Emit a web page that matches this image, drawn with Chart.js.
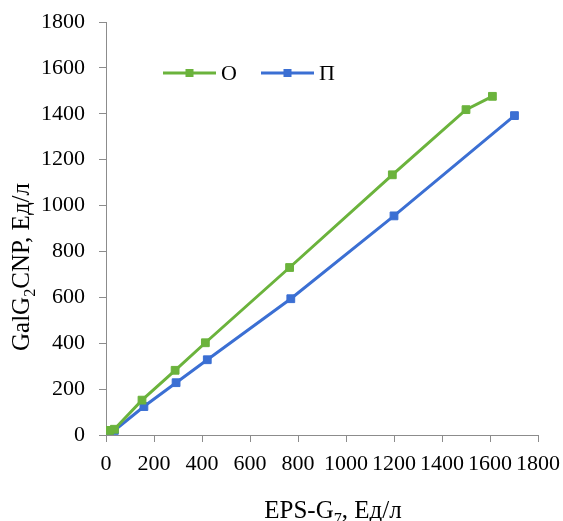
<!DOCTYPE html>
<html>
<head>
<meta charset="utf-8">
<script src="https://cdn.jsdelivr.net/npm/chart.js@4.4.0/dist/chart.umd.min.js"></script>
<style>
  html, body { margin: 0; padding: 0; background: #fff; }
  #wrap { width: 563px; height: 521px; }
</style>
</head>
<body>
<div id="wrap"><canvas id="chart" width="563" height="521"></canvas></div>
<script>
// series О
const oX = [15, 35, 150, 288, 414, 765, 1193, 1500, 1610];
const oY = [20, 25, 152, 282, 402, 730, 1134, 1418, 1476];
// series П
const pX = [15, 35, 158, 292, 422, 770, 1200, 1702];
const pY = [20, 20, 124, 228, 328, 594, 955, 1392];

const seriesNames = ["О", "П"];
const seriesColors = ["#6BB33C", "#3B6FD3"];
const xTicks = [0, 200, 400, 600, 800, 1000, 1200, 1400, 1600, 1800];
const yTicks = [0, 200, 400, 600, 800, 1000, 1200, 1400, 1600, 1800];

const serif = "'Liberation Serif', 'Times New Roman', serif";
const axisGray = "#8c8c8c";

function toPoints(xs, ys) {
  return xs.map((x, i) => ({ x: x, y: ys[i] }));
}

// draws text with one lowered small part, e.g. G₂
function drawSubText(ctx, parts, x, y, size) {
  let cx = x;
  parts.forEach(p => {
    const s = p.sub ? size * 0.65 : size;
    ctx.font = s + "px " + serif;
    ctx.fillText(p.t, cx, p.sub ? y + size * 0.22 : y);
    cx += ctx.measureText(p.t).width;
  });
}
function measureSubText(ctx, parts, size) {
  let w = 0;
  parts.forEach(p => {
    ctx.font = (p.sub ? size * 0.65 : size) + "px " + serif;
    w += ctx.measureText(p.t).width;
  });
  return w;
}

const titlesPlugin = {
  id: "titles",
  afterDraw(chart) {
    const ctx = chart.ctx;
    ctx.save();
    ctx.fillStyle = "#000";
    ctx.textBaseline = "alphabetic";
    ctx.textAlign = "left";
    // x axis title
    const xt = [{ t: "EPS-G" }, { t: "7", sub: true }, { t: ", Ед/л" }];
    const xw = measureSubText(ctx, xt, 25);
    drawSubText(ctx, xt, 333 - xw / 2, 518, 25);
    // y axis title
    const yt = [{ t: "GalG" }, { t: "2", sub: true }, { t: "CNP, Ед/л" }];
    const yw = measureSubText(ctx, yt, 25);
    ctx.translate(29, 267);
    ctx.rotate(-Math.PI / 2);
    drawSubText(ctx, yt, -yw / 2, 0, 25);
    ctx.restore();
  }
};

const legendPlugin = {
  id: "legendLines",
  afterDraw(chart) {
    const ctx = chart.ctx;
    const items = [{ x0: 163, x1: 216, tx: 221 }, { x0: 261, x1: 314, tx: 319 }];
    const y = 73;
    ctx.save();
    chart.data.datasets.forEach((ds, i) => {
      const it = items[i];
      ctx.strokeStyle = ds.borderColor;
      ctx.lineWidth = 3;
      ctx.beginPath();
      ctx.moveTo(it.x0, y);
      ctx.lineTo(it.x1, y);
      ctx.stroke();
      ctx.fillStyle = ds.borderColor;
      const mx = (it.x0 + it.x1) / 2;
      ctx.fillRect(mx - 4, y - 4, 8, 8);
      ctx.fillStyle = "#000";
      ctx.font = "22px " + serif;
      ctx.textBaseline = "middle";
      ctx.fillText(ds.label, it.tx, y + 1);
    });
    ctx.restore();
  }
};

new Chart(document.getElementById("chart").getContext("2d"), {
  type: "scatter",
  data: {
    datasets: [
      {
        label: seriesNames[0],
        data: toPoints(oX, oY),
        showLine: true,
        borderColor: seriesColors[0],
        backgroundColor: seriesColors[0],
        borderWidth: 3,
        pointStyle: "rect",
        pointRadius: 5.5,
        pointBorderWidth: 1
      },
      {
        label: seriesNames[1],
        data: toPoints(pX, pY),
        showLine: true,
        borderColor: seriesColors[1],
        backgroundColor: seriesColors[1],
        borderWidth: 3,
        pointStyle: "rect",
        pointRadius: 5.5,
        pointBorderWidth: 1
      }
    ]
  },
  options: {
    responsive: false,
    animation: false,
    layout: { padding: { left: 0, right: 25, top: 22, bottom: 0 } },
    plugins: {
      legend: { display: false },
      tooltip: { enabled: false }
    },
    scales: {
      x: {
        type: "linear",
        min: 0,
        max: 1800,
        afterBuildTicks: s => { s.ticks = xTicks.map(v => ({ value: v })); },
        afterFit: s => { s.height = 86; s.paddingLeft = 0; s.paddingRight = 0; },
        ticks: {
          autoSkip: false,
          maxRotation: 0,
          padding: 9,
          color: "#000",
          font: { family: serif, size: 22 },
          callback: v => String(v)
        },
        grid: { drawOnChartArea: false, drawTicks: true, tickLength: 7, color: axisGray },
        border: { color: axisGray, width: 1 }
      },
      y: {
        type: "linear",
        min: 0,
        max: 1800,
        afterBuildTicks: s => { s.ticks = yTicks.map(v => ({ value: v })); },
        afterFit: s => { s.width = 106; s.paddingTop = 0; s.paddingBottom = 0; },
        ticks: {
          autoSkip: false,
          padding: 14,
          color: "#000",
          font: { family: serif, size: 22 },
          callback: v => String(v)
        },
        grid: { drawOnChartArea: false, drawTicks: true, tickLength: 7, color: axisGray },
        border: { color: axisGray, width: 1 }
      }
    }
  },
  plugins: [titlesPlugin, legendPlugin]
});
</script>
</body>
</html>
